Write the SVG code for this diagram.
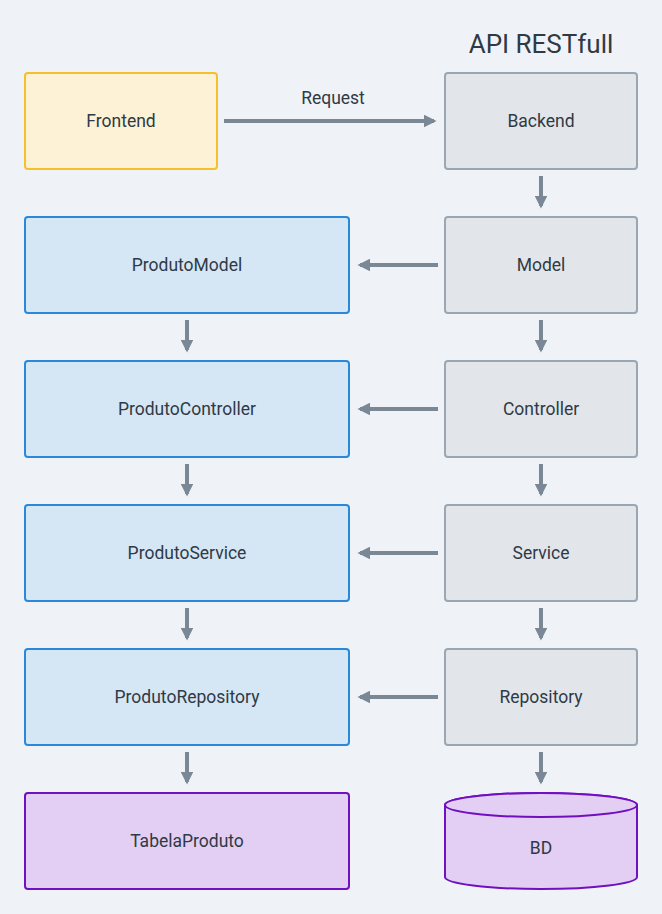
<svg xmlns="http://www.w3.org/2000/svg" width="662" height="914" viewBox="0 0 662 914">
<defs>
<style>
text{font-family:"Roboto","Liberation Sans",sans-serif;fill:#2f3a45;text-anchor:middle;dominant-baseline:central}
.lbl{font-size:17.5px}
.title{font-size:26px}
.yel{fill:#fdf2d5;stroke:#f5c02a;stroke-width:2}
.gry{fill:#e2e6ea;stroke:#9aa6b2;stroke-width:2}
.blu{fill:#d5e6f5;stroke:#2b88d8;stroke-width:2}
.pur{fill:#e3cff3;stroke:#7010c0;stroke-width:2}
.edge{stroke:#7a8794;stroke-width:4;fill:none;marker-end:url(#ah)}
</style>
<marker id="ah" viewBox="0 0 10 10" refX="8" refY="5" markerWidth="3.2" markerHeight="3.2" orient="auto" markerUnits="strokeWidth">
<path d="M0,0 L10,5 L0,10 z" fill="#7a8794"/>
</marker>
</defs>
<rect width="662" height="914" fill="#eff3f7"/>
<text class="title" x="541" y="44">API RESTfull</text>
<g id="frontend"><rect class="yel" x="25" y="73" width="192" height="96" rx="3"/><text class="lbl" x="121" y="121">Frontend</text></g>
<g id="backend"><rect class="gry" x="445" y="73" width="192" height="96" rx="3"/><text class="lbl" x="541" y="121">Backend</text></g>
<g id="model"><rect class="gry" x="445" y="217" width="192" height="96" rx="3"/><text class="lbl" x="541" y="265">Model</text></g>
<g id="controller"><rect class="gry" x="445" y="361" width="192" height="96" rx="3"/><text class="lbl" x="541" y="409">Controller</text></g>
<g id="service"><rect class="gry" x="445" y="505" width="192" height="96" rx="3"/><text class="lbl" x="541" y="553">Service</text></g>
<g id="repository"><rect class="gry" x="445" y="649" width="192" height="96" rx="3"/><text class="lbl" x="541" y="697">Repository</text></g>
<g id="bd"><path class="pur" d="M445,805 L445,877 A96,12 0 0 0 637,877 L637,805 A96,12 0 0 0 445,805 Z"/><ellipse class="pur" cx="541" cy="805" rx="96" ry="12"/><text class="lbl" x="541" y="848">BD</text></g>
<g id="produtoModel"><rect class="blu" x="25" y="217" width="324" height="96" rx="3"/><text class="lbl" x="187" y="265">ProdutoModel</text></g>
<g id="produtoController"><rect class="blu" x="25" y="361" width="324" height="96" rx="3"/><text class="lbl" x="187" y="409">ProdutoController</text></g>
<g id="produtoService"><rect class="blu" x="25" y="505" width="324" height="96" rx="3"/><text class="lbl" x="187" y="553">ProdutoService</text></g>
<g id="produtoRepository"><rect class="blu" x="25" y="649" width="324" height="96" rx="3"/><text class="lbl" x="187" y="697">ProdutoRepository</text></g>
<g id="tabelaProduto"><rect class="pur" x="25" y="793" width="324" height="96" rx="3"/><text class="lbl" x="187" y="841">TabelaProduto</text></g>
<g id="connectors">
<line class="edge" x1="224" y1="121" x2="434" y2="121"/>
<text class="lbl" x="333" y="98">Request</text>
<line class="edge" x1="541" y1="176" x2="541" y2="206"/>
<line class="edge" x1="541" y1="320" x2="541" y2="350"/>
<line class="edge" x1="541" y1="464" x2="541" y2="494"/>
<line class="edge" x1="541" y1="608" x2="541" y2="638"/>
<line class="edge" x1="541" y1="752" x2="541" y2="782"/>
<line class="edge" x1="187" y1="320" x2="187" y2="350"/>
<line class="edge" x1="187" y1="464" x2="187" y2="494"/>
<line class="edge" x1="187" y1="608" x2="187" y2="638"/>
<line class="edge" x1="187" y1="752" x2="187" y2="782"/>
<line class="edge" x1="438" y1="265" x2="360" y2="265"/>
<line class="edge" x1="438" y1="409" x2="360" y2="409"/>
<line class="edge" x1="438" y1="553" x2="360" y2="553"/>
<line class="edge" x1="438" y1="697" x2="360" y2="697"/>
</g>
</svg>
